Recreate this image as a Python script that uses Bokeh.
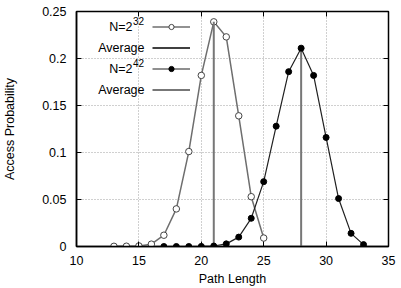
from bokeh.plotting import figure
from bokeh.models import (ColumnDataSource, FixedTicker, LinearAxis, Label,
                          Legend, LegendItem, CustomLabelingPolicy)
from bokeh.core.properties import value
from bokeh.embed import file_html
from bokeh.resources import INLINE

# Path-length distribution for two network sizes
len_32 = [13, 14, 15, 16, 17, 18, 19, 20, 21, 22, 23, 24, 25]
prob_32 = [0.0002, 0.0003, 0.0006, 0.0025, 0.012, 0.040, 0.101,
           0.182, 0.239, 0.223, 0.139, 0.053, 0.009]

len_42 = [17, 18, 19, 20, 21, 22, 23, 24, 25, 26, 27, 28, 29, 30, 31, 32, 33]
prob_42 = [0.0, 0.0, 0.0, 0.0001, 0.0005, 0.0028, 0.010, 0.030, 0.069,
           0.128, 0.186, 0.211, 0.182, 0.116, 0.051, 0.014, 0.002]

# Average path length of each distribution
avg_len = [21.0, 28.0]
avg_top = [max(prob_32), max(prob_42)]

x_ticks = [10, 15, 20, 25, 30, 35]
y_ticks = [0, 0.05, 0.1, 0.15, 0.2, 0.25]
y_tick_labels = ["0", "0.05", "0.1", "0.15", "0.2", "0.25"]

# legend captions; exponents are set as raised text after the base
legend_labels = ["N=2", "Average", "N=2", "Average"]
legend_exps = ["32", "", "42", ""]

FONT = "Liberation Sans"
GRAY = "#6e6e6e"
ROW = 21  # legend row height, px

p = figure(width=401, height=288, x_range=(10, 35), y_range=(0, 0.25),
           output_backend="svg", toolbar_location=None,
           min_border_left=74, min_border_right=13,
           min_border_top=11, min_border_bottom=42)
p.background_fill_color = "white"
p.border_fill_color = "white"
p.outline_line_color = "black"
p.outline_line_width = 1.5

p.xaxis.ticker = FixedTicker(ticks=x_ticks)
p.yaxis.ticker = FixedTicker(ticks=y_ticks)
p.yaxis.major_label_overrides = {t: s for t, s in zip(y_ticks, y_tick_labels)}
p.xaxis.axis_label = "Path Length"
p.yaxis.axis_label = "Access Probability"

for ax in (p.xaxis, p.yaxis):
    ax.axis_line_color = "black"
    ax.axis_line_width = 1.5
    ax.major_tick_in = 5
    ax.major_tick_out = 0
    ax.minor_tick_line_color = None
    ax.major_label_text_font = FONT
    ax.major_label_text_font_size = "12.5px"
    ax.major_label_text_color = "black"
    ax.axis_label_text_font = FONT
    ax.axis_label_text_font_size = "12.5px"
    ax.axis_label_text_font_style = "normal"
    ax.axis_label_text_color = "black"
p.xaxis.major_label_standoff = 9
p.xaxis.axis_label_standoff = 4
p.yaxis.major_label_standoff = 10
p.yaxis.axis_label_standoff = 22

# mirrored tick marks on the top and right edges, without labels
no_labels = CustomLabelingPolicy(code="""
    if (indices.clear) { indices.clear(); return indices }
    return []
""")
for side, ticks in (("right", y_ticks), ("above", x_ticks)):
    ax = LinearAxis(ticker=FixedTicker(ticks=ticks), major_label_policy=no_labels)
    ax.axis_line_color = None
    ax.major_tick_in = 5
    ax.major_tick_out = 0
    ax.minor_tick_line_color = None
    ax.major_label_standoff = 0
    ax.major_label_text_font_size = "0px"
    p.add_layout(ax, side)

p.grid.grid_line_color = "#a0a0a0"
p.grid.grid_line_dash = "1 2"
p.grid.grid_line_width = 1

src32 = ColumnDataSource(dict(x=len_32, y=prob_32))
src42 = ColumnDataSource(dict(x=len_42, y=prob_42))
src_avg = ColumnDataSource(dict(x=avg_len, top=avg_top, bottom=[0, 0]))

l32 = p.line("x", "y", source=src32, line_color=GRAY, line_width=1.5)
m32 = p.scatter("x", "y", source=src32, marker="circle", size=6.5,
                fill_color="white", line_color="#444444", line_width=1)

avg_r = p.segment(x0="x", y0="bottom", x1="x", y1="top", source=src_avg,
                  line_color="#777777", line_width=2)

l42 = p.line("x", "y", source=src42, line_color="#202020", line_width=1.2)
m42 = p.scatter("x", "y", source=src42, marker="circle", size=6,
                fill_color="black", line_color="black")

# black key for the first average: a zero-length stroke at its base
avg_key = p.line(x=[avg_len[0], avg_len[0]], y=[0, 0],
                 line_color="black", line_width=1.5)

blank = value(" ")
items = [
    LegendItem(label=blank, renderers=[l32, m32]),
    LegendItem(label=blank, renderers=[avg_key]),
    LegendItem(label=blank, renderers=[l42, m42]),
    LegendItem(label=blank, renderers=[avg_r]),
]
top_row = 220  # centre of the first legend row, px above the frame bottom
legend = Legend(items=items,
                location=(76, top_row + ROW // 2 - ROW * len(items)),
                glyph_width=38, glyph_height=13, label_height=ROW,
                label_width=0, label_standoff=0, spacing=0, padding=0, margin=0,
                border_line_color=None, background_fill_alpha=0,
                label_text_font_size="12.5px")
p.add_layout(legend)

# legend captions sit to the left of their samples
for i, (text, exp) in enumerate(zip(legend_labels, legend_exps)):
    cy = top_row - ROW * i
    right = 68
    if exp:
        right = 56
        p.add_layout(Label(x=right + 0.5, y=cy + 5.5, x_units="screen",
                           y_units="screen", text=exp, text_align="left",
                           text_baseline="middle", text_font=FONT,
                           text_font_size="10px", text_color="black"))
    p.add_layout(Label(x=right, y=cy, x_units="screen", y_units="screen",
                       text=text, text_align="right", text_baseline="middle",
                       text_font=FONT, text_font_size="12.5px",
                       text_color="black"))

open("out.html", "w").write(file_html(p, INLINE))
